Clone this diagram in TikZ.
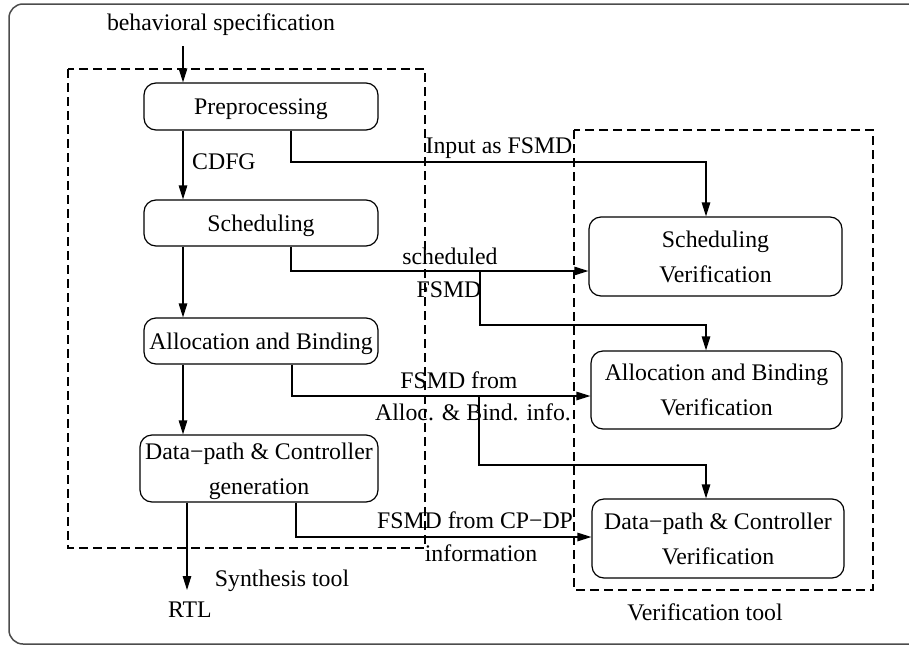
\documentclass[tikz,border=0pt]{standalone}
\usepackage{fontspec}
\setmainfont{Liberation Serif}
\usetikzlibrary{arrows.meta,calc}

\tikzset{
  stage/.style={draw, line width=1.2pt, rounded corners=12pt, inner sep=0pt,
    align=center, text depth=0pt, font=\fontsize{23.8}{35}\selectfont},
  lbl/.style={inner sep=0pt, align=center, text depth=0pt, font=\fontsize{23.8}{35}\selectfont},
  arr/.style={line width=1.2pt, -{Triangle[length=14pt,width=8.5pt]}},
  toolbox/.style={line width=1.1pt, dash pattern=on 9pt off 5pt},
}

\begin{document}
\begin{tikzpicture}[x=1pt,y=-1pt]
\useasboundingbox (0,0) rectangle (909,645);

% outer frame
\draw[black!70, line width=1.5pt, rounded corners=14pt] (9,4) rectangle (930,644);

% tool boundaries
\draw[toolbox] (68,69) rectangle (425,548);
\draw[toolbox] (574,130) rectangle (873,590);

% synthesis flow
\node[stage, minimum width=234pt, minimum height=47pt] (pre) at (261,106.5) {Preprocessing};
\node[stage, minimum width=234pt, minimum height=46pt] (sch) at (261,223) {Scheduling};
\node[stage, minimum width=234pt, minimum height=46pt] (alb) at (261,341) {Allocation and Binding};
\node[stage, minimum width=238pt, minimum height=67pt] (dpc) at (259,468.5) {Data−path \& Controller\\generation};

% verification flow
\node[stage, minimum width=253pt, minimum height=79pt] (sv) at (715.5,256.5) {Scheduling\\Verification};
\node[stage, minimum width=251pt, minimum height=78pt] (av) at (716.5,390) {Allocation and Binding\\Verification};
\node[stage, minimum width=252pt, minimum height=79pt] (dv) at (718,538.5) {Data−path \& Controller\\Verification};

% labels
\node[lbl] (spec) at (221,22) {behavioral specification};
\node[lbl, anchor=west] (cdfg) at (192,162) {CDFG};
\node[lbl] (inp) at (499,146) {Input as FSMD};
\node[lbl] (schd) at (450,256) {scheduled};
\node[lbl] (schf) at (449,290) {FSMD};
\node[lbl] (fa1) at (459,380) {FSMD from};
\node[lbl] (fa2) at (473,412) {Alloc. \& Bind. info.};
\node[lbl] (fd1) at (475,520) {FSMD from CP−DP};
\node[lbl] (fd2) at (481,553) {information};
\node[lbl] (syn) at (282,578) {Synthesis tool};
\node[lbl] (rtl) at (190,610) {RTL};
\node[lbl] (ver) at (705,612) {Verification tool};

% synthesis chain
\coordinate (specend) at (183,46);
\coordinate (rtlend) at (187,590);
\draw[arr] (specend) -- (specend |- pre.north);
\draw[arr] ([xshift=-78pt]pre.south) -- ([xshift=-78pt]sch.north);
\draw[arr] ([xshift=-78pt]sch.south) -- ([xshift=-78pt]alb.north);
\draw[arr] ([xshift=-78pt]alb.south) -- ([xshift=-76pt]dpc.north);
\draw[arr] ([xshift=-72pt]dpc.south) -- (rtlend);

% FSMD hand-over to the verifier
\coordinate (t1) at (706,162);
\draw[arr] ([xshift=30pt]pre.south) |- (t1) -- (t1 |- sv.north);

\coordinate (j1) at (480,271);
\coordinate (t2) at (706,325);
\draw[arr] ([xshift=30pt]sch.south) |- (j1) -- (j1 -| sv.west);
\draw[arr] (j1) |- (t2) -- (t2 |- av.north);

\coordinate (j2) at (479,396);
\coordinate (t3) at (706,465);
\draw[arr] ([xshift=31pt]alb.south) |- (j2) -- (j2 -| av.west);
\draw[arr] (j2) |- (t3) -- (t3 |- dv.north);

\coordinate (j3) at (480,537);
\draw[arr] ([xshift=37pt]dpc.south) |- (j3) -- (j3 -| dv.west);
\end{tikzpicture}
\end{document}
